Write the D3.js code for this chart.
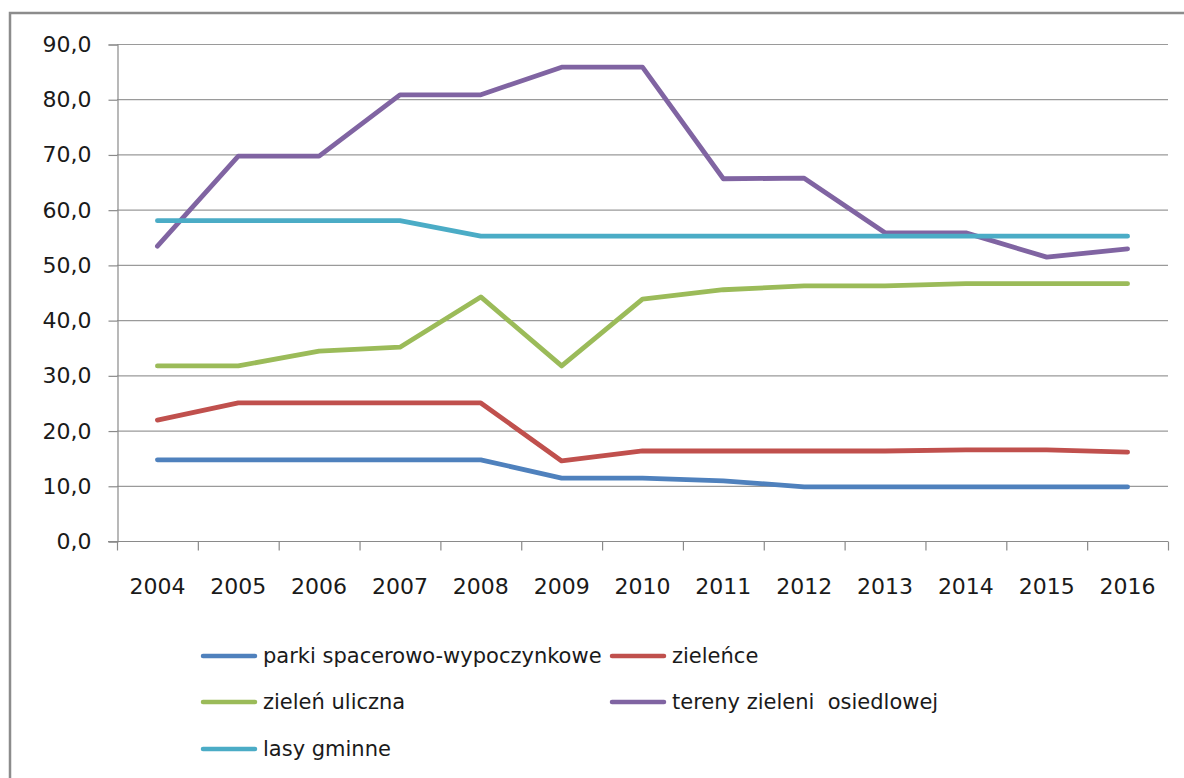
<!DOCTYPE html>
<html>
<head>
<meta charset="utf-8">
<script src="https://cdn.jsdelivr.net/npm/d3@7"></script>
<style>
  html, body { margin: 0; padding: 0; background: #fff; }
  svg { display: block; }
  text { font-family: "DejaVu Sans", Verdana, sans-serif; fill: #1a1a1a; }
</style>
</head>
<body>
<svg id="chart" width="1184" height="778"></svg>
<script>
const years = ["2004","2005","2006","2007","2008","2009","2010","2011","2012","2013","2014","2015","2016"];
const yTicks = [0,10,20,30,40,50,60,70,80,90];

const parki    = [14.7,14.7,14.7,14.7,14.7,11.4,11.4,10.9,9.8,9.8,9.8,9.8,9.8];
const zielence = [21.9,25.0,25.0,25.0,25.0,14.5,16.3,16.3,16.3,16.3,16.5,16.5,16.1];
const ulicza   = [31.7,31.7,34.4,35.1,44.2,31.7,43.8,45.5,46.2,46.2,46.6,46.6,46.6];
const osiedla  = [53.4,69.7,69.7,80.8,80.8,85.8,85.8,65.6,65.7,55.8,55.8,51.4,52.9];
const lasy     = [58.0,58.0,58.0,58.0,55.2,55.2,55.2,55.2,55.2,55.2,55.2,55.2,55.2];

const seriesNames = ["parki spacerowo-wypoczynkowe","zieleńce","zieleń uliczna","tereny zieleni  osiedlowej","lasy gminne"];
const seriesColors = ["#4F81BD","#C0504D","#9BBB59","#8064A2","#4BACC6"];
const seriesValues = [parki, zielence, ulicza, osiedla, lasy];

const svg = d3.select("#chart");

// outer frame
svg.append("rect")
  .attr("x", 10).attr("y", 13)
  .attr("width", 1300).attr("height", 900)
  .attr("fill", "none").attr("stroke", "#8c8c8c").attr("stroke-width", 2.5);

const pLeft = 117, pRight = 1168, pTop = 44, pBottom = 541;

const x = d3.scaleBand().domain(years).range([pLeft, pRight]).padding(0);
const y = d3.scaleLinear().domain([0, 90]).range([pBottom, pTop]);

// gridlines
svg.append("g")
  .selectAll("line").data(yTicks.filter(d => d > 0)).join("line")
  .attr("x1", pLeft).attr("x2", pRight)
  .attr("y1", d => y(d) + 0.5).attr("y2", d => y(d) + 0.5)
  .attr("stroke", "#9a9a9a").attr("stroke-width", 1.2);

// y axis
const yAxis = d3.axisLeft(y).tickValues(yTicks).tickSize(9).tickPadding(17)
  .tickFormat(d => d3.format(".1f")(d).replace(".", ","));
const gy = svg.append("g").attr("transform", `translate(${pLeft + 0.5},0.5)`).call(yAxis);
gy.select(".domain").attr("stroke", "#8a8a8a").attr("stroke-width", 1.2);
gy.selectAll(".tick line").attr("stroke", "#8a8a8a").attr("stroke-width", 1.2);
gy.selectAll(".tick text").attr("font-size", 22).attr("fill", "#1a1a1a")
  .attr("font-family", "'DejaVu Sans', Verdana, sans-serif");

// x axis with ticks between categories
const xAxisG = svg.append("g").attr("transform", `translate(0,${pBottom + 0.5})`);
xAxisG.append("line").attr("x1", pLeft - 9).attr("x2", pRight)
  .attr("y1", 0).attr("y2", 0).attr("stroke", "#8a8a8a").attr("stroke-width", 1.2);
const boundaries = years.map(d => x(d)).concat([x(years[years.length - 1]) + x.bandwidth()]);
xAxisG.selectAll("line.tk").data(boundaries).join("line").attr("class", "tk")
  .attr("x1", d => d + 0.5).attr("x2", d => d + 0.5)
  .attr("y1", 0).attr("y2", 9).attr("stroke", "#8a8a8a").attr("stroke-width", 1.2);
xAxisG.selectAll("text").data(years).join("text")
  .attr("x", d => x(d) + x.bandwidth() / 2)
  .attr("y", 52)
  .attr("text-anchor", "middle")
  .attr("font-size", 22)
  .text(d => d);

// lines
const line = d3.line()
  .x((d, i) => x(years[i]) + x.bandwidth() / 2)
  .y(d => y(d));

seriesValues.forEach((vals, k) => {
  svg.append("path")
    .datum(vals)
    .attr("d", line)
    .attr("fill", "none")
    .attr("stroke", seriesColors[k])
    .attr("stroke-width", 4.8)
    .attr("stroke-linejoin", "round")
    .attr("stroke-linecap", "round");
});

// legend
const legendPos = [
  {x: 203, y: 656}, {x: 612, y: 656},
  {x: 203, y: 702}, {x: 612, y: 702},
  {x: 203, y: 749}
];
const lg = svg.append("g");
seriesNames.forEach((name, k) => {
  const p = legendPos[k];
  lg.append("line")
    .attr("x1", p.x).attr("x2", p.x + 52)
    .attr("y1", p.y).attr("y2", p.y)
    .attr("stroke", seriesColors[k]).attr("stroke-width", 4.5)
    .attr("stroke-linecap", "round");
  lg.append("text")
    .attr("x", p.x + 60).attr("y", p.y)
    .attr("dy", "0.35em")
    .attr("font-size", 21)
    .style("white-space", "pre")
    .text(name);
});
</script>
</body>
</html>
